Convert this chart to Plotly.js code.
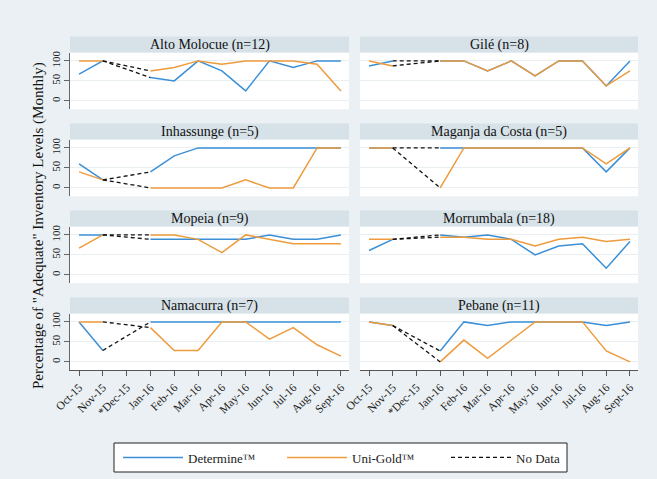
<!DOCTYPE html>
<html>
<head>
<meta charset="utf-8">
<script src="https://cdn.plot.ly/plotly-3.0.1.min.js"></script>
<style>html,body{margin:0;padding:0;background:#eaf0f3;}#chart{width:657px;height:479px;}</style>
</head>
<body>
<div id="chart"></div>
<script>
// ---- data ----
var months = ["Oct-15","Nov-15","*Dec-15","Jan-16","Feb-16","Mar-16","Apr-16","May-16","Jun-16","Jul-16","Aug-16","Sept-16"];
var panelTitles = ["Alto Molocue (n=12)","Gilé (n=8)","Inhassunge (n=5)","Maganja da Costa (n=5)","Mopeia (n=9)","Morrumbala (n=18)","Namacurra (n=7)","Pebane (n=11)"];
var seriesNames = ["Determine™","Uni-Gold™","No Data"];

var altoDetermine = [66.7,100,null,58.3,50,100,75,25,100,83.3,100,100];
var altoUnigold   = [100,100,null,75,83.3,100,91.7,100,100,100,91.7,25];
var gileDetermine = [87.5,100,null,100,100,75,100,62.5,100,100,37.5,100];
var gileUnigold   = [100,87.5,null,100,100,75,100,62.5,100,100,37.5,75];
var inhDetermine  = [60,20,null,40,80,100,100,100,100,100,100,100];
var inhUnigold    = [40,20,null,0,0,0,0,20,0,0,100,100];
var magDetermine  = [100,100,null,100,100,100,100,100,100,100,40,100];
var magUnigold    = [100,100,null,0,100,100,100,100,100,100,60,100];
var mopDetermine  = [100,100,null,88.9,88.9,88.9,88.9,88.9,100,88.9,88.9,100];
var mopUnigold    = [66.7,100,null,100,100,88.9,55.6,100,88.9,77.8,77.8,77.8];
var morDetermine  = [61.1,88.9,null,100,94.4,100,88.9,50,72.2,77.8,16.7,83.3];
var morUnigold    = [88.9,88.9,null,94.4,94.4,88.9,88.9,72.2,88.9,94.4,83.3,88.9];
var namDetermine  = [100,28.6,null,100,100,100,100,100,100,100,100,100];
var namUnigold    = [100,100,null,85.7,28.6,28.6,100,100,57.1,85.7,42.9,14.3];
var pebDetermine  = [100,90.9,null,27.3,100,90.9,100,100,100,100,90.9,100];
var pebUnigold    = [100,90.9,null,0,54.5,9.1,54.5,100,100,100,27.3,0];

var determine = [altoDetermine,gileDetermine,inhDetermine,magDetermine,mopDetermine,morDetermine,namDetermine,pebDetermine];
var unigold = [altoUnigold,gileUnigold,inhUnigold,magUnigold,mopUnigold,morUnigold,namUnigold,pebUnigold];
var yTicks = [0,50,100];

(function(){
// ---- style ----
var W = 657, H = 479;
var BLUE = "#3a8fd6", ORANGE = "#ee9b3d";
var SERIF = "Liberation Serif, Times New Roman, serif";
var colX = [[70,349],[360,638]];
var rowTop0 = 52.5, rowH = 56.8, rowStep = 87, headH = 16;

function px(x){return x/W;}
function py(y){return 1 - y/H;}

var traces = [], layout = {
  width: W, height: H,
  paper_bgcolor: "#eaf0f3", plot_bgcolor: "#ffffff",
  margin: {l:0,r:0,t:0,b:0},
  font: {family: SERIF, color: "#222"},
  showlegend: true,
  legend: {orientation:"h", x: px(118), xanchor:"left", y: py(457.5), yanchor:"middle",
           bgcolor:"rgba(0,0,0,0)", borderwidth:0, font:{family:SERIF,size:13,color:"#222"},
           entrywidth: 89, entrywidthmode:"pixels", itemwidth: 60, tracegroupgap:0},
  shapes: [], annotations: []
};

for (var i=0;i<8;i++){
  var r = Math.floor(i/2), c = i%2, n = i+1;
  var xa = "x"+(n===1?"":n), ya = "y"+(n===1?"":n);
  var pTop = rowTop0 + r*rowStep, pBot = pTop + rowH;
  var bottomRow = (r===3), leftCol = (c===0);
  layout["xaxis"+(n===1?"":n)] = {
    domain:[px(colX[c][0]), px(colX[c][1])], anchor: ya,
    type:"category", categoryarray: months, range:[-0.38, 11.34],
    showgrid:false, zeroline:false,
    showline: bottomRow, linecolor:"#555", linewidth:1,
    ticks: bottomRow ? "outside" : "", ticklen:5, tickcolor:"#555",
    showticklabels: bottomRow, tickangle:-45,
    tickfont:{family:SERIF,size:11.5,color:"#222"}
  };
  layout["yaxis"+(n===1?"":n)] = {
    domain:[py(pBot), py(pTop)], anchor: xa,
    range:[-21,121], tickvals: yTicks, ticktext: yTicks.map(String),
    showgrid:true, gridcolor:"#e9eef1", gridwidth:1, zeroline:false,
    showline: leftCol, linecolor:"#666", linewidth:1,
    ticks: leftCol ? "outside":"", ticklen:5, tickcolor:"#666",
    showticklabels: leftCol, tickangle:-90,
    tickfont:{family:SERIF,size:11,color:"#222"}
  };
  layout.shapes.push({type:"rect", xref:"paper", yref:"paper",
    x0:px(colX[c][0]), x1:px(colX[c][1]), y0:py(pTop), y1:py(pTop-headH),
    fillcolor:"#d6e1e8", line:{width:0}, layer:"below"});
  layout.annotations.push({xref:"paper", yref:"paper", x:px((colX[c][0]+colX[c][1])/2), y:py(pTop-headH/2),
    text: panelTitles[i], showarrow:false, xanchor:"center", yanchor:"middle",
    font:{family:SERIF,size:14,color:"#111"}});

  traces.push({x:months, y:determine[i], xaxis:xa, yaxis:ya, type:"scatter", mode:"lines",
    line:{color:BLUE,width:1.5}, connectgaps:false, name:seriesNames[0], legendgroup:"d", showlegend:i===0});
  traces.push({x:months, y:unigold[i], xaxis:xa, yaxis:ya, type:"scatter", mode:"lines",
    line:{color:ORANGE,width:1.5}, connectgaps:false, name:seriesNames[1], legendgroup:"u", showlegend:i===0});
  [determine[i], unigold[i]].forEach(function(s,k){
    traces.push({x:[months[1],months[3]], y:[s[1],s[3]], xaxis:xa, yaxis:ya, type:"scatter", mode:"lines",
      line:{color:"#111",width:1.3,dash:"4px,3px"}, name:seriesNames[2], legendgroup:"n",
      showlegend:(i===0 && k===0), hoverinfo:"skip"});
  });
}
layout.shapes.push({type:"rect", xref:"paper", yref:"paper", x0:px(114), x1:px(567), y0:py(472), y1:py(443),
  fillcolor:"#ffffff", line:{color:"#222",width:1}, layer:"below"});
layout.annotations.push({xref:"paper", yref:"paper", x:px(38), y:py(226), textangle:-90,
  text:'Percentage of "Adequate" Inventory Levels (Monthly)', showarrow:false,
  xanchor:"center", yanchor:"middle", font:{family:SERIF,size:15,color:"#111"}});

Plotly.newPlot("chart", traces, layout, {displayModeBar:false, staticPlot:true});
})();
</script>
</body>
</html>
